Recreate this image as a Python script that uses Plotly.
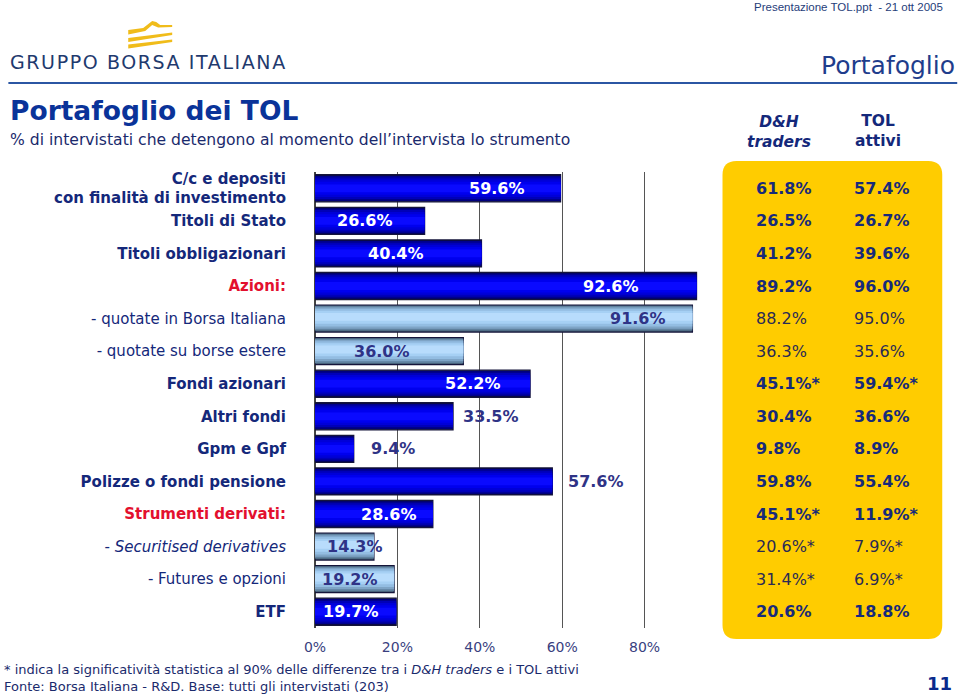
import plotly.graph_objects as go

# ---------------- data ----------------
categories = [
    "C/c e depositi|con finalità di investimento",
    "Titoli di Stato",
    "Titoli obbligazionari",
    "Azioni:",
    "- quotate in Borsa Italiana",
    "- quotate su borse estere",
    "Fondi azionari",
    "Altri fondi",
    "Gpm e Gpf",
    "Polizze o fondi pensione",
    "Strumenti derivati:",
    "- Securitised derivatives",
    "- Futures e opzioni",
    "ETF",
]
total_values = [59.6, 26.6, 40.4, 92.6, 91.6, 36.0, 52.2, 33.5, 9.4, 57.6, 28.6, 14.3, 19.2, 19.7]
is_sub = [False, False, False, False, True, True, False, False, False, False, False, True, True, False]
is_heading = [False, False, False, True, False, False, False, False, False, False, True, False, False, False]
dh_traders = ["61.8%", "26.5%", "41.2%", "89.2%", "88.2%", "36.3%", "45.1%*", "30.4%", "9.8%",
              "59.8%", "45.1%*", "20.6%*", "31.4%*", "20.6%"]
tol_attivi = ["57.4%", "26.7%", "39.6%", "96.0%", "95.0%", "35.6%", "59.4%*", "36.6%", "8.9%",
              "55.4%", "11.9%*", "7.9%*", "6.9%*", "18.8%"]
x_ticks = [0, 20, 40, 60, 80]

# ---------------- styles ----------------
FONT = "DejaVu Sans"
NAVY = "#14287a"
LABEL_NAVY = "#2f3386"
RED = "#e3102e"
# bar label placement (pixel shift from bar end), style only
label_shift_px = [-64, -60, -85, -86, -54, -81, -57, 38, 39, 44, -44, -19, -44, -45]
label_inside = [True, True, True, True, True, True, True, False, False, False, True, True, True, True]

# plot area in pixels
X0, X1, Y0, Y1 = 315, 727.5, 172, 628
W, H = 960, 697


def px(x):
    return (x - X0) / (X1 - X0)


def py(y):
    return (Y1 - y) / (Y1 - Y0)


n = len(categories)
ys = list(range(n))

fig = go.Figure()

# (width, colour, vertical offset) layers that imitate the gradient fill
dark_layers = [(0.83, "#000050", 0), (0.76, "#00008c", 0), (0.66, "#0000b8", 0),
               (0.54, "#0000d8", 0), (0.40, "#0000ee", 0), (0.24, "#0a0aff", 0)]
light_layers = [(0.83, "#40596e", 0), (0.76, "#5f819e", 0.01), (0.66, "#7ea4c6", 0.02),
                (0.54, "#93bde2", 0.03), (0.40, "#a6d0f4", 0.04), (0.24, "#b8dcfc", 0.05)]

for li in range(len(dark_layers)):
    widths, colors, yy = [], [], []
    for i, s in enumerate(is_sub):
        w, c, off = (light_layers if s else dark_layers)[li]
        widths.append(w)
        colors.append(c)
        yy.append(i - off)
    fig.add_trace(go.Bar(
        x=total_values, y=yy, orientation="h", width=widths,
        marker=dict(color=colors,
                    line=dict(color="#15153a", width=1.3) if li == 0 else dict(width=0)),
        hoverinfo="skip", showlegend=False,
    ))

# bar value labels
for i, v in enumerate(total_values):
    col = "white" if (label_inside[i] and not is_sub[i]) else LABEL_NAVY
    fig.add_annotation(x=v, y=i, xref="x", yref="y", text=f"<b>{v:.1f}%</b>",
                       showarrow=False, xshift=label_shift_px[i], xanchor="center",
                       yanchor="middle", font=dict(family=FONT, size=16, color=col))

# tick labels for categories
ticktext = []
for i, c in enumerate(categories):
    if is_heading[i]:
        t = f"<span style='color:{RED}'><b>{c}</b></span>"
    elif is_sub[i]:
        if "Securitised" in c:
            t = "- <i>Securitised derivatives</i>"
        else:
            t = c
    else:
        t = "<b>" + c.replace("|", "</b><br><b>") + "</b>"
    ticktext.append(t)

fig.update_yaxes(
    range=[n - 0.5, -0.5], tickvals=ys, ticktext=ticktext, ticks="",
    ticklabelstandoff=28, showgrid=False, zeroline=False, showline=False,
    tickfont=dict(family=FONT, size=15, color=NAVY),
)
fig.update_xaxes(
    range=[0, 100], tickvals=x_ticks, ticktext=[f"{t}%" for t in x_ticks], ticks="",
    showgrid=True, gridcolor="#555555", gridwidth=1.3,
    zeroline=True, zerolinecolor="#444444", zerolinewidth=1.5,
    showline=False, ticklabelstandoff=9,
    tickfont=dict(family=FONT, size=14, color="#3a3f7f"),
)

shapes = []
# yellow rounded box
bx0, by0, bx1, by1, r = 723, 161, 943, 639, 14
path = (f"M {px(bx0 + r)},{py(by0)} L {px(bx1 - r)},{py(by0)} "
        f"Q {px(bx1)},{py(by0)} {px(bx1)},{py(by0 + r)} "
        f"L {px(bx1)},{py(by1 - r)} Q {px(bx1)},{py(by1)} {px(bx1 - r)},{py(by1)} "
        f"L {px(bx0 + r)},{py(by1)} Q {px(bx0)},{py(by1)} {px(bx0)},{py(by1 - r)} "
        f"L {px(bx0)},{py(by0 + r)} Q {px(bx0)},{py(by0)} {px(bx0 + r)},{py(by0)} Z")
shapes.append(dict(type="path", xref="paper", yref="paper", path=path,
                   fillcolor="#ffcc00", line=dict(width=0), layer="below"))
# header rule
shapes.append(dict(type="line", xref="paper", yref="paper", x0=px(8), x1=px(958),
                   y0=py(83), y1=py(83), line=dict(color="#2b56a3", width=2)))


# logo stripes
def poly(points):
    return "M " + " L ".join(f"{px(a)},{py(b)}" for a, b in points) + " Z"


gold = "#f0bc1a"
shapes.append(dict(type="path", xref="paper", yref="paper", fillcolor=gold, line=dict(width=0),
                   path=poly([(128, 30), (143, 28), (152, 21), (156, 22), (160, 25), (172, 25),
                              (172, 27), (158, 27.5), (152, 25), (145, 31), (128, 34.5)])))
shapes.append(dict(type="path", xref="paper", yref="paper", fillcolor=gold, line=dict(width=0),
                   path=poly([(128, 38), (172, 32.5), (172, 35), (128, 42)])))
shapes.append(dict(type="path", xref="paper", yref="paper", fillcolor=gold, line=dict(width=0),
                   path=poly([(128, 44.5), (172, 39.5), (172, 42), (128, 48.5)])))

fig.update_layout(shapes=shapes)


def text(x, y, s, size, color, xanchor="left", family=FONT, yanchor="middle", align="left"):
    fig.add_annotation(x=px(x), y=py(y), xref="paper", yref="paper", text=s, showarrow=False,
                       xanchor=xanchor, yanchor=yanchor, align=align,
                       font=dict(family=family, size=size, color=color))


text(946, 7, "Presentazione TOL.ppt  - 21 ott 2005", 11.5, "#1f3d7a", xanchor="right",
     family="Liberation Sans")
text(8, 62, "<span style='letter-spacing:1.6px'>GRUPPO BORSA ITALIANA</span>", 19, "#1f3a6e")
text(958, 65, "Portafoglio", 25, "#1f3d8c", xanchor="right")
text(8, 111, "<b>Portafoglio dei TOL</b>", 26.5, "#0a3399")
text(8, 140, "% di intervistati che detengono al momento dell\u2019intervista lo strumento", 15.6,
     "#1a2a6c")
text(780, 132, "<b><i>D&amp;H</i></b><br><b><i>traders</i></b>", 15.5, NAVY, xanchor="center",
     align="center")
text(879, 131, "<b>TOL</b><br><b>attivi</b>", 15.5, NAVY, xanchor="center", align="center")
text(2, 669, "* indica la significatività statistica al 90% delle differenze tra i "
     "<i>D&amp;H traders</i> e i TOL attivi", 13, "#1a2a6c")
text(2, 686, "Fonte: Borsa Italiana - R&amp;D. Base: tutti gli intervistati (203)", 13, "#1a2a6c")
text(955, 683, "<b>11</b>", 18, "#0a2a8c", xanchor="right")

# table values
for i in range(n):
    for col_x, vals in ((755, dh_traders), (853, tol_attivi)):
        s = vals[i] if is_sub[i] else f"<b>{vals[i]}</b>"
        fig.add_annotation(x=px(col_x), y=i, xref="paper", yref="y", text=s, showarrow=False,
                           xanchor="left", yanchor="middle",
                           font=dict(family=FONT, size=16,
                                     color="#2a2a55" if is_sub[i] else "#172a7a"))

fig.update_layout(
    width=W, height=H, barmode="overlay",
    margin=dict(l=X0, r=W - X1, t=Y0, b=H - Y1, pad=0),
    paper_bgcolor="white", plot_bgcolor="white",
    showlegend=False,
)

fig.write_html("out.html", config={"displayModeBar": False},
               post_script="document.body.style.margin='0px';document.body.style.overflow='hidden';")
